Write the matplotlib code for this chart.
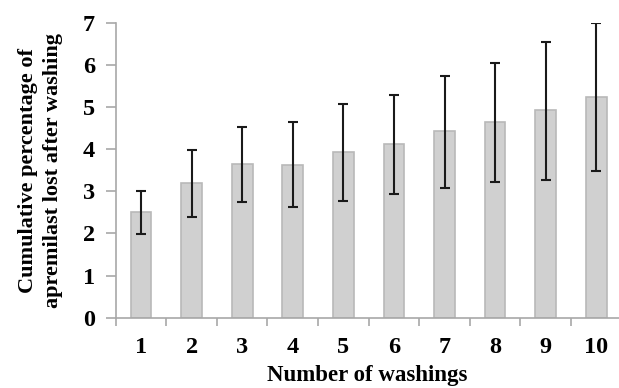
import matplotlib
matplotlib.use('Agg')
from matplotlib import pyplot as plt
from matplotlib.ticker import FixedLocator
import numpy as np

# data
washings = [1, 2, 3, 4, 5, 6, 7, 8, 9, 10]
mean_loss = [2.51, 3.19, 3.65, 3.63, 3.92, 4.11, 4.42, 4.64, 4.92, 5.24]
err_low = [1.98, 2.40, 2.74, 2.62, 2.76, 2.94, 3.07, 3.23, 3.27, 3.48]
err_high = [3.00, 3.97, 4.52, 4.63, 5.06, 5.27, 5.73, 6.04, 6.53, 6.98]
y_ticks = [0, 1, 2, 3, 4, 5, 6, 7]

plt.rcParams['font.family'] = ['Liberation Serif', 'DejaVu Serif']
plt.rcParams['font.weight'] = 'bold'

x = np.array(washings)
means = np.array(mean_loss)
yerr = np.vstack([means - np.array(err_low), np.array(err_high) - means])

fig = plt.figure(figsize=(6.19, 3.88), dpi=100)
ax = fig.add_axes([0.187, 0.181, 0.813, 0.761])

ax.bar(x, means, width=0.41, color='#d0d0d0', edgecolor='#b9b9b9', linewidth=1.2, zorder=2)
ax.errorbar(x, means, yerr=yerr, fmt='none', ecolor='#1a1a1a', elinewidth=1.5,
            capsize=3.5, capthick=1.5, zorder=3)

ax.set_xlim(0.5, 10.45)
ax.set_ylim(0, 7)
ax.set_yticks(y_ticks)
ax.set_xticks(washings)
ax.xaxis.set_minor_locator(FixedLocator(np.arange(0.5, 10.6, 1.0)))

for side in ('top', 'right'):
    ax.spines[side].set_visible(False)
for side in ('left', 'bottom'):
    ax.spines[side].set_color('#a8a8a8')
    ax.spines[side].set_linewidth(1.2)

ax.tick_params(axis='x', which='major', length=0, pad=14, labelsize=17.5)
ax.tick_params(axis='x', which='minor', length=6, width=1.2, color='#a8a8a8')
ax.tick_params(axis='y', which='major', length=7, width=1.2, color='#a8a8a8', pad=8, labelsize=17.5)

ax.set_xlabel('Number of washings', fontsize=16.5, fontweight='bold', labelpad=5)
ax.set_ylabel('Cumulative percentage of\napremilast lost after washing', fontsize=16,
              fontweight='bold', linespacing=1.35, labelpad=14)

fig.savefig('out.png', dpi=100)
